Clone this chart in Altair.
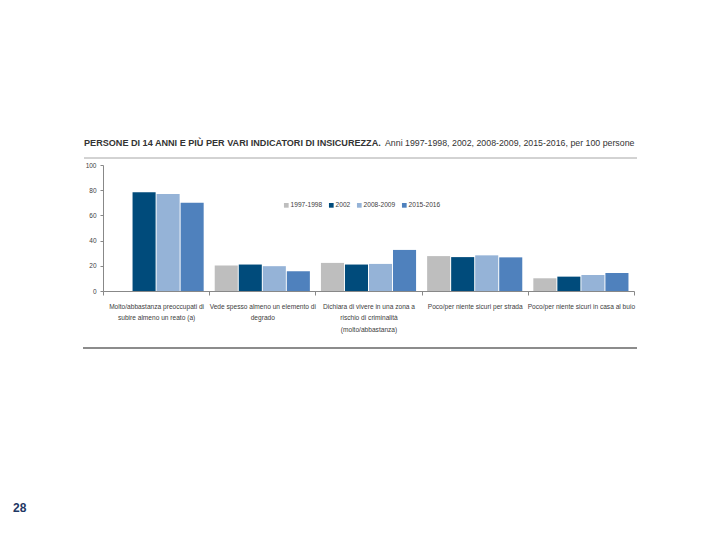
import altair as alt
import pandas as pd

categories = [
    "Molto/abbastanza preoccupati di|subire almeno un reato (a)",
    "Vede spesso almeno un elemento di|degrado",
    "Dichiara di vivere in una zona a|rischio di criminalità|(molto/abbastanza)",
    "Poco/per niente sicuri per strada",
    "Poco/per niente sicuri in casa al buio",
]
years = ["1997-1998", "2002", "2008-2009", "2015-2016"]
values_1997 = [None, 20.2, 22.3, 27.7, 10.1]
values_2002 = [78.3, 21.0, 21.0, 26.9, 11.4]
values_2008 = [76.9, 19.7, 21.5, 28.3, 12.7]
values_2015 = [70.0, 15.7, 32.6, 26.7, 14.3]
colors = ["#BEBEBE", "#004B7B", "#95B3D7", "#4F81BD"]

title_bold = "PERSONE DI 14 ANNI E PIÙ PER VARI INDICATORI DI INSICUREZZA."
title_rest = "Anni 1997-1998, 2002, 2008-2009, 2015-2016, per 100 persone"
page_number = "28"

rows = []
for series, vals in zip(years, [values_1997, values_2002, values_2008, values_2015]):
    for cat, v in zip(categories, vals):
        if v is not None:
            rows.append({"categoria": cat, "anno": series, "valore": v})
df = pd.DataFrame(rows)

FONT = "Liberation Sans, Arial, sans-serif"
W, H = 531, 126

bars = alt.Chart(df).mark_bar().encode(
    x=alt.X(
        "categoria:N",
        sort=categories,
        scale=alt.Scale(paddingInner=0, paddingOuter=0),
        axis=alt.Axis(
            title="",
            labelAngle=0,
            labelExpr="split(datum.label, '|')",
            labelFont=FONT,
            labelFontSize=6.6,
            labelColor="#404040",
            labelLimit=200,
            labelPadding=8,
            labelLineHeight=11.5,
            tickBand="extent",
            tickSize=4,
            tickColor="#888888",
            domainColor="#888888",
        ),
    ),
    xOffset=alt.XOffset(
        "anno:N", sort=years, scale=alt.Scale(paddingInner=0.04, paddingOuter=0.23)
    ),
    y=alt.Y(
        "valore:Q",
        scale=alt.Scale(domain=[0, 100]),
        axis=alt.Axis(
            title="",
            values=[0, 20, 40, 60, 80, 100],
            grid=False,
            labelFont=FONT,
            labelFontSize=6.5,
            labelColor="#404040",
            labelPadding=4,
            tickSize=3,
            tickColor="#888888",
            domainColor="#888888",
        ),
    ),
    color=alt.Color(
        "anno:N",
        sort=years,
        scale=alt.Scale(domain=years, range=colors),
        legend=alt.Legend(
            title="",
            orient="none",
            direction="horizontal",
            legendX=180,
            legendY=37,
            symbolType="square",
            symbolSize=22,
            symbolStrokeWidth=0,
            labelFont=FONT,
            labelFontSize=6.6,
            labelColor="#404040",
            labelOffset=1,
            columnPadding=5,
        ),
    ),
)

dec = pd.DataFrame({"t": [0]})

t1 = alt.Chart(dec).mark_text(
    text=title_bold, font=FONT, fontSize=9.1, fontWeight="bold", color="#333333",
    align="left", baseline="alphabetic",
).encode(x=alt.value(-19), y=alt.value(-19))
t2 = alt.Chart(dec).mark_text(
    text=title_rest, font=FONT, fontSize=8.8, color="#333333",
    align="left", baseline="alphabetic",
).encode(x=alt.value(282), y=alt.value(-19))
top_line = alt.Chart(dec).mark_rule(color="#A6A6A6", strokeWidth=1).encode(
    x=alt.value(-19), x2=alt.value(534), y=alt.value(-7)
)
bottom_line = alt.Chart(dec).mark_rule(color="#8C8C8C", strokeWidth=2).encode(
    x=alt.value(-20), x2=alt.value(534), y=alt.value(183)
)
page = alt.Chart(dec).mark_text(
    text=page_number, font=FONT, fontSize=12,
    fontWeight="bold", color="#1F3864", align="left", baseline="alphabetic",
).encode(x=alt.value(-90), y=alt.value(347))

chart = alt.layer(bars, t1, t2, top_line, bottom_line, page).properties(
    width=W,
    height=H,
    autosize=alt.AutoSizeParams(type="none"),
    padding={"left": 95, "top": 157, "right": 70, "bottom": 240},
    background="white",
).configure_view(stroke=None)

chart.save("out.html", embed_options={"renderer": "svg", "actions": False})
